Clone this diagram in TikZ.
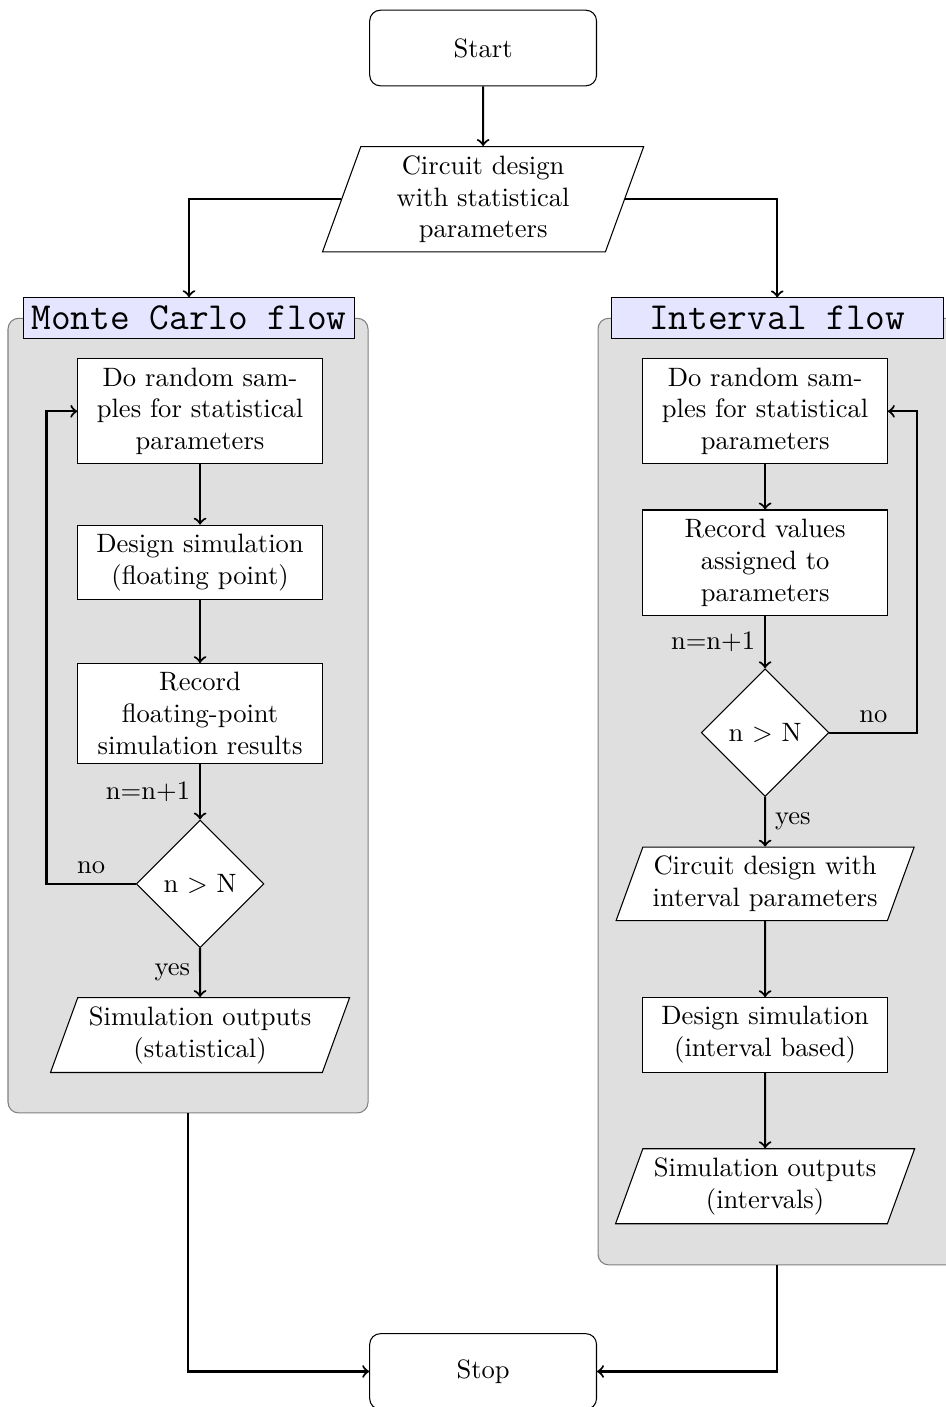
\documentclass[tikz,border=0pt]{standalone}
\usetikzlibrary{shapes.geometric,positioning,fit}
\begin{document}
\begin{tikzpicture}[
    node distance=2cm, on grid,
    startstop/.style={rectangle, rounded corners, draw, minimum width=3cm, minimum height=1cm, align=center},
    process/.style={rectangle, draw, fill=white, text width=3cm, align=center},
    io/.style={trapezium, trapezium left angle=70, trapezium right angle=110,
        draw, fill=white, text width=3cm, align=center},
    decision/.style={diamond, aspect=1, draw, fill=white, align=center},
    flowtitle/.style={rectangle, draw, fill=blue!10, minimum width=4.39cm,
        inner xsep=1.5pt, inner ysep=3.2pt, font=\Large\ttfamily},
    flowframe/.style={rectangle, rounded corners, draw=gray, fill=gray!25, inner sep=0pt},
    arrow/.style={thick, ->}]
\useasboundingbox (0,0) rectangle (12.5,-18.61);

% grey frames behind the two flows
\node[flowframe, fit={(0.106,-4.21) (4.868,-14.72)}] (mcframe) {};
\node[flowframe, fit={(7.91,-4.21) (12.65,-16.73)}] (ivframe) {};

% common part
\node[startstop] (start) at (6.39,-0.635) {Start};
\node[io, below=of start] (circ) {Circuit design\\ with statistical\\ parameters};
\node[flowtitle] (mctitle) at (2.50,-4.21) {Monte Carlo flow};
\node[flowtitle] (ivtitle) at (10.28,-4.21) {Interval flow};
\node[startstop] (stop) at (6.39,-18.14) {Stop};

% Monte Carlo flow
\node[process] (mcsample) at (2.646,-5.44) {Do random sam-\\ples for statistical\\ parameters};
\node[process, below=of mcsample] (mcsim) {Design simulation\\ (floating point)};
\node[process, below=of mcsim] (mcrecord) {Record\\ floating-point\\ simulation results};
\node[decision, below=2.25cm of mcrecord] (mccheck) {n $>$ N};
\node[io, below=of mccheck] (mcout) {Simulation outputs\\ (statistical)};

% Interval flow
\node[process] (ivsample) at (10.12,-5.44) {Do random sam-\\ples for statistical\\ parameters};
\node[process, below=of ivsample] (ivrecord) {Record values\\ assigned to\\ parameters};
\node[decision, below=2.25cm of ivrecord] (ivcheck) {n $>$ N};
\node[io, below=of ivcheck] (ivcirc) {Circuit design with\\ interval parameters};
\node[process, below=of ivcirc] (ivsim) {Design simulation\\ (interval based)};
\node[io, below=of ivsim] (ivout) {Simulation outputs\\ (intervals)};

% connectors
\draw[arrow] (start) -- (circ);
\draw[arrow] (circ.west) -| (mctitle.north);
\draw[arrow] (circ.east) -| (ivtitle.north);

\draw[arrow] (mcsample) -- (mcsim);
\draw[arrow] (mcsim) -- (mcrecord);
\draw[arrow] (mcrecord) -- node[left] {n=n+1} (mccheck);
\draw[arrow] (mccheck) -- node[left] {yes} (mcout);
\draw[arrow] (mccheck.west) -- ++(-1.18,0) node[above, midway] {no} |- (mcsample.west);

\draw[arrow] (ivsample) -- (ivrecord);
\draw[arrow] (ivrecord) -- node[left] {n=n+1} (ivcheck);
\draw[arrow] (ivcheck) -- node[right] {yes} (ivcirc);
\draw[arrow] (ivcheck.east) -- ++(1.16,0) node[above, midway] {no} |- (ivsample.east);
\draw[arrow] (ivcirc) -- (ivsim);
\draw[arrow] (ivsim) -- (ivout);

\draw[arrow] (mcframe.south) |- (stop.west);
\draw[arrow] (ivframe.south) |- (stop.east);
\end{tikzpicture}
\end{document}
